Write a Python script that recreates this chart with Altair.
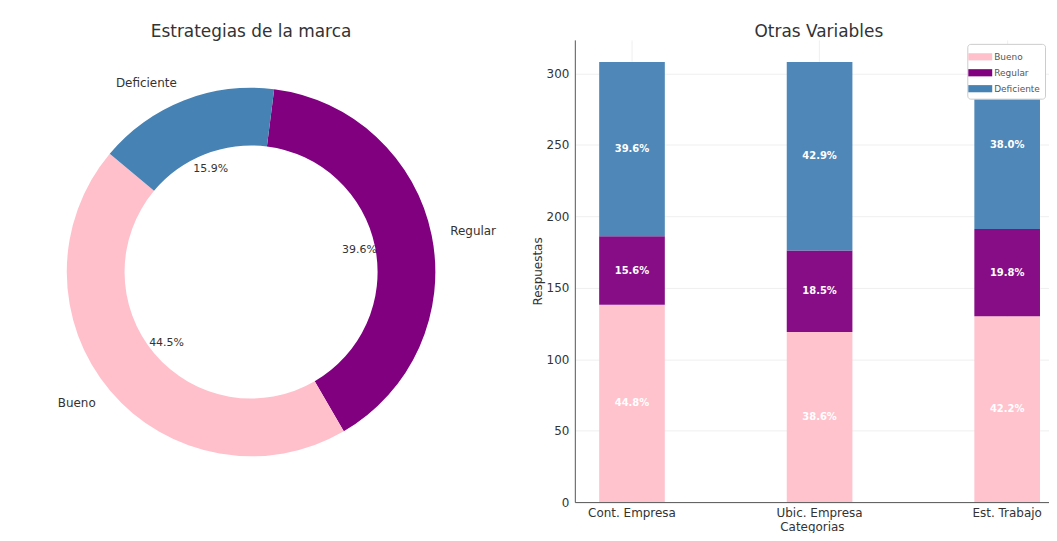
import math
import altair as alt
import pandas as pd

# ---------------- data ----------------
donut_labels = ["Regular", "Bueno", "Deficiente"]      # clockwise order from the top
donut_values = [122, 137, 49]

categories = ["Cont. Empresa", "Ubic. Empresa", "Est. Trabajo"]
levels = ["Bueno", "Regular", "Deficiente"]
bueno = [138, 119, 130]
regular = [48, 57, 61]
deficiente = [122, 132, 117]
y_ticks = [0, 50, 100, 150, 200, 250, 300]

level_colors = ["#FFC0CB", "#800080", "#4682B4"]
FONT = "DejaVu Sans"
TXT = "#333333"

# ---------------- donut ----------------
donut_df = pd.DataFrame({
    "label": donut_labels,
    "value": donut_values,
    "ord": list(range(len(donut_labels))),
})
total = sum(donut_values)
start = math.radians(7.2)
theta_scale = alt.Scale(domain=[0, total], range=[start, start + 2 * math.pi])
color_scale = alt.Scale(domain=levels, range=level_colors)

dbase = alt.Chart(donut_df)

arc = dbase.mark_arc(outerRadius=185, innerRadius=127).encode(
    theta=alt.Theta("value:Q", stack=True, scale=theta_scale),
    color=alt.Color("label:N", scale=color_scale, legend=None),
    order=alt.Order("ord:Q"),
)

tbase = dbase.transform_window(
    cum="sum(value)", sort=[alt.SortField("ord")]
).transform_joinaggregate(
    tot="sum(value)"
).transform_calculate(
    mid="datum.cum - datum.value / 2",
    pct="datum.value / datum.tot",
)

pct_text = tbase.mark_text(fontSize=11, color=TXT, font=FONT).encode(
    theta=alt.Theta("mid:Q", stack=False, scale=theta_scale),
    radius=alt.value(111),
    text=alt.Text("pct:Q", format=".1%"),
)

name_left = tbase.transform_filter(
    alt.FieldOneOfPredicate(field="label", oneOf=["Bueno", "Deficiente"])
).mark_text(fontSize=12, color=TXT, font=FONT, align="right", baseline="middle").encode(
    theta=alt.Theta("mid:Q", stack=False, scale=theta_scale),
    radius=alt.value(204),
    text="label:N",
)
name_right = tbase.transform_filter(
    alt.FieldOneOfPredicate(field="label", oneOf=["Regular"])
).mark_text(fontSize=12, color=TXT, font=FONT, align="left", baseline="middle").encode(
    theta=alt.Theta("mid:Q", stack=False, scale=theta_scale),
    radius=alt.value(204),
    text="label:N",
)

donut = alt.layer(arc, pct_text, name_left, name_right).properties(
    width=478, height=466,
    title=alt.Title("Estrategias de la marca", fontSize=17, font=FONT,
                    fontWeight="normal", color=TXT, offset=-1),
)

# ---------------- stacked bars ----------------
rows = []
for i, c in enumerate(categories):
    for j, (lv, arr) in enumerate(zip(levels, [bueno, regular, deficiente])):
        rows.append({"category": c, "level": lv, "value": arr[i], "ord": j})
bar_df = pd.DataFrame(rows)

bbase = alt.Chart(bar_df)

x_enc = alt.X(
    "category:N", sort=categories,
    scale=alt.Scale(paddingInner=0.65, paddingOuter=0.0889, align=0.73),
    axis=alt.Axis(title="Categorias", labelAngle=0, tickSize=0, labelPadding=5,
                  titlePadding=3, labelFontSize=12, titleFontSize=12,
                  labelFont=FONT, titleFont=FONT, titleFontWeight="normal",
                  labelColor=TXT, titleColor=TXT, domainColor="#555555",
                  grid=True, gridColor="#efefef"),
)
y_scale = alt.Scale(domain=[0, 323.4], nice=False)

bars = bbase.mark_bar(opacity=0.95).encode(
    x=x_enc,
    y=alt.Y("value:Q", stack=True, scale=y_scale,
            axis=alt.Axis(title="Respuestas", values=y_ticks, tickSize=0,
                          labelPadding=6, titlePadding=2, labelFontSize=12,
                          titleFontSize=12, labelFont=FONT, titleFont=FONT,
                          titleFontWeight="normal", labelColor=TXT,
                          titleColor=TXT, domainColor="#555555",
                          gridColor="#efefef")),
    color=alt.Color("level:N", scale=color_scale,
                    legend=alt.Legend(title=None, orient="none", legendX=394,
                                      legendY=4, labelFontSize=9, labelFont=FONT,
                                      labelColor="#555555",
                                      symbolType="M-1.5,-0.45H1.5V0.45H-1.5Z",
                                      symbolSize=256, symbolStrokeWidth=0,
                                      symbolOpacity=1, labelOffset=6,
                                      rowPadding=3, padding=5,
                                      strokeColor="#cccccc", fillColor="white",
                                      cornerRadius=3)),
    order=alt.Order("ord:Q"),
)

bar_text = bbase.transform_window(
    cum="sum(value)", sort=[alt.SortField("ord")], groupby=["category"]
).transform_joinaggregate(
    tot="sum(value)", groupby=["category"]
).transform_calculate(
    mid="datum.cum - datum.value / 2",
    pct="datum.value / datum.tot",
).mark_text(fontSize=10, fontWeight="bold", color="white", font=FONT).encode(
    x=alt.X("category:N", sort=categories),
    y=alt.Y("mid:Q", stack=False, scale=y_scale),
    text=alt.Text("pct:Q", format=".1%"),
)

barchart = alt.layer(bars, bar_text).properties(
    width=476, height=464,
    title=alt.Title("Otras Variables", fontSize=17, font=FONT,
                    fontWeight="normal", color=TXT, offset=-1, dx=7),
)

chart = alt.hconcat(donut, barchart, spacing=35).resolve_scale(
    color="independent"
).properties(
    padding={"left": 5, "top": 14, "right": 0, "bottom": 0}
).configure(font=FONT, view=alt.ViewConfig(stroke=None))

chart.save("out.html", embed_options={"renderer": "svg", "actions": False})
